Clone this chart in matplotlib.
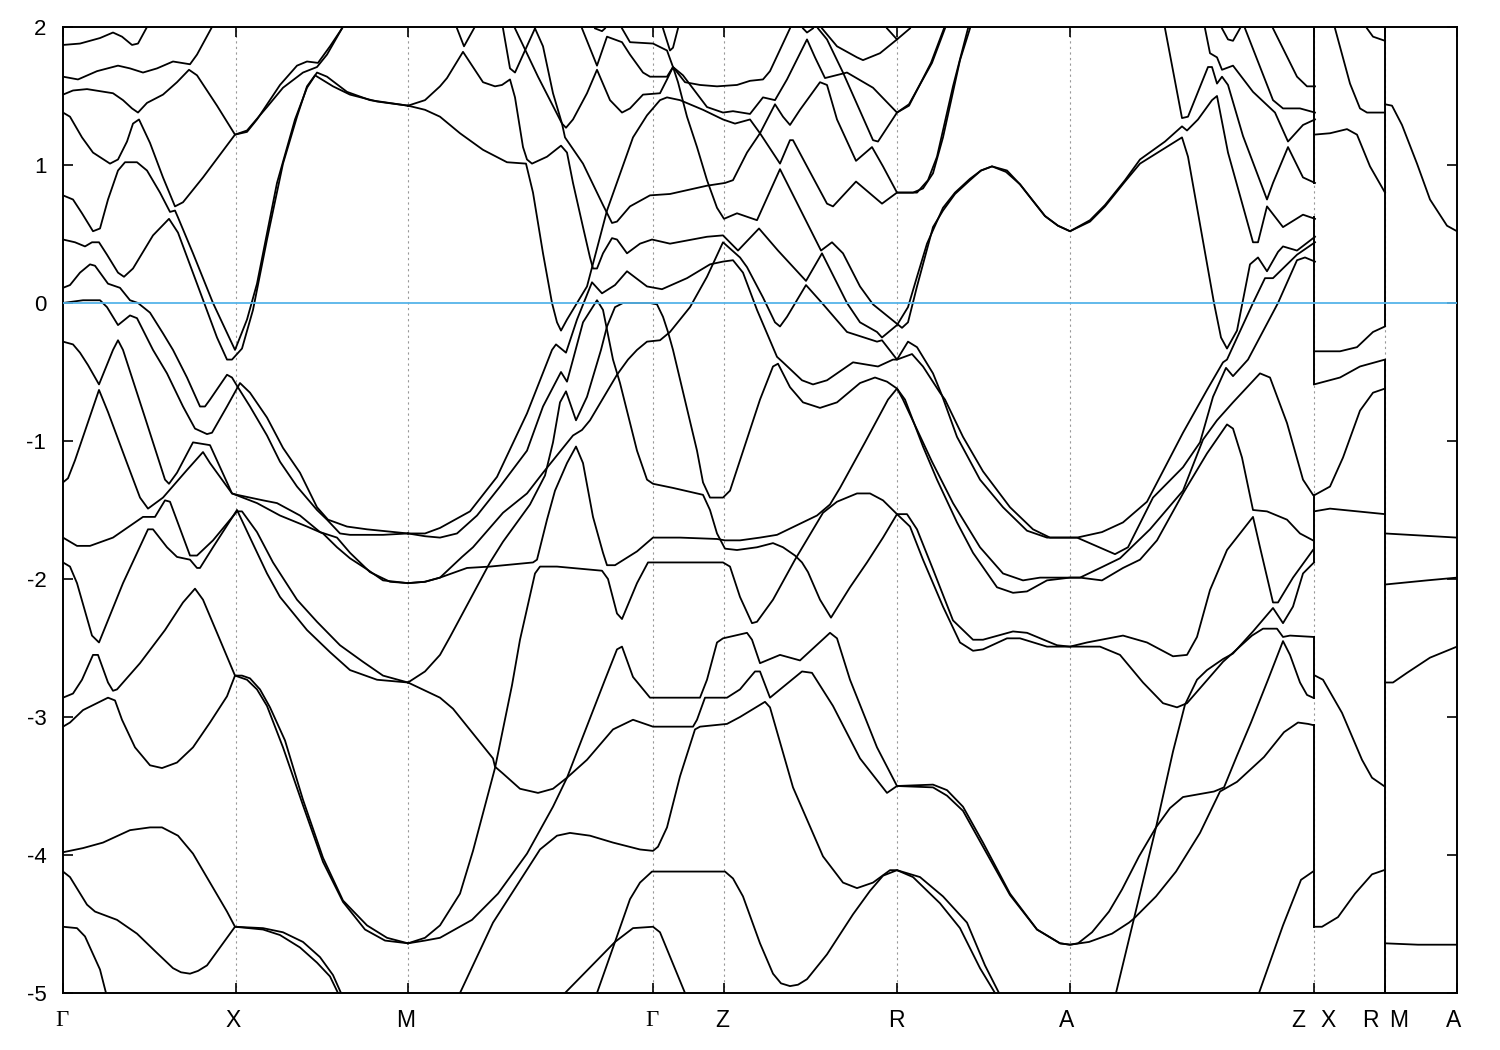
import matplotlib
matplotlib.use('Agg')
from matplotlib import pyplot as plt

# band structure: k = distance along the path, e = energy in eV
tick_k = [0, 173, 345, 590, 661, 834, 1007, 1251, 1322, 1394]
label_k = [-1, 170, 343, 589, 659, 833, 1004, 1235, 1265, 1307, 1336, 1391]
labels = ['Γ', 'X', 'M', 'Γ', 'Z', 'R', 'A', 'Z', 'X', 'R', 'M', 'A']
y_ticks = [2, 1, 0, -1, -2, -3, -4, -5]

b01_k = [0, 17, 37, 50, 59, 69, 75, 84]
b01_e = [1.87, 1.88, 1.92, 1.96, 1.93, 1.87, 1.88, 2.0]
b02_k = [0, 15, 34, 55, 67, 80, 94, 110, 127, 134, 149]
b02_e = [1.64, 1.62, 1.68, 1.72, 1.70, 1.67, 1.70, 1.75, 1.73, 1.80, 2.0]
b03_k = [0, 10, 24, 50, 60, 69, 75, 84, 100, 114, 126, 134, 154, 172, 184, 194, 217, 234, 244, 255, 267, 279]
b03_e = [1.51, 1.54, 1.55, 1.52, 1.47, 1.41, 1.38, 1.45, 1.51, 1.60, 1.69, 1.65, 1.43, 1.22, 1.24, 1.33, 1.58, 1.72, 1.75, 1.74, 1.86, 1.99]
b04_k = [0, 7, 19, 30, 47, 55, 64, 70, 76, 87, 100, 112, 120, 140, 172, 184, 204, 220, 240, 254, 264, 279]
b04_e = [1.38, 1.35, 1.20, 1.09, 1.01, 1.04, 1.17, 1.30, 1.33, 1.16, .91, .70, .73, .91, 1.22, 1.25, 1.42, 1.56, 1.67, 1.71, 1.80, 1.99]
b05_k = [0, 10, 19, 30, 37, 45, 55, 62, 74, 84, 97, 107, 112, 115, 130, 150, 172, 184, 194, 214, 232, 244, 254, 264, 284, 307, 345]
b05_e = [.78, .75, .65, .52, .54, .75, .96, 1.02, 1.02, .96, .80, .66, .67, .62, .36, 0, -.34, -.12, .14, .87, 1.33, 1.56, 1.67, 1.64, 1.53, 1.47, 1.43]
b06_k = [0, 12, 22, 29, 36, 44, 55, 61, 70, 90, 106, 115, 134, 154, 164, 169, 179, 190, 204, 220, 234, 244, 252, 270, 287, 314, 345]
b06_e = [.46, .44, .41, .44, .44, .35, .22, .19, .25, .49, .61, .51, .14, -.25, -.41, -.41, -.33, -.05, .46, 1.01, 1.35, 1.57, 1.65, 1.57, 1.51, 1.46, 1.43]
b07_k = [0, 7, 17, 27, 32, 45, 57, 67, 75, 87, 100, 110, 124, 137, 142, 147, 164, 169, 174, 187, 204, 217, 234, 254, 264, 277, 287, 320, 345]
b07_e = [.11, .13, .22, .28, .27, .14, .11, .02, 0, -.07, -.22, -.34, -.54, -.75, -.75, -.70, -.52, -.54, -.60, -.75, -.96, -1.15, -1.33, -1.50, -1.57, -1.67, -1.68, -1.68, -1.67]
b08_k = [0, 20, 37, 44, 55, 67, 74, 90, 104, 120, 132, 144, 149, 164, 177, 187, 204, 220, 237, 254, 265, 284, 304, 345]
b08_e = [0, .02, .02, -.03, -.16, -.09, -.11, -.34, -.51, -.75, -.91, -.95, -.94, -.75, -.58, -.65, -.83, -1.05, -1.23, -1.48, -1.57, -1.62, -1.64, -1.67]
b09_k = [0, 10, 17, 25, 36, 50, 55, 60, 82, 102, 106, 114, 130, 147, 164, 169, 174, 200, 214, 237, 257, 274, 287, 307, 327, 345]
b09_e = [-.28, -.30, -.36, -.45, -.59, -.34, -.27, -.34, -.83, -1.28, -1.31, -1.23, -1.01, -1.03, -1.30, -1.38, -1.39, -1.43, -1.45, -1.54, -1.66, -1.70, -1.81, -1.95, -2.02, -2.03]
b10_k = [0, 5, 12, 36, 45, 64, 77, 85, 100, 124, 140, 147, 169, 194, 217, 244, 260, 274, 287, 304, 320, 345]
b10_e = [-1.30, -1.27, -1.14, -.63, -.79, -1.16, -1.41, -1.49, -1.41, -1.21, -1.08, -1.16, -1.38, -1.45, -1.54, -1.62, -1.67, -1.77, -1.85, -1.93, -2.01, -2.03]
b11_k = [0, 14, 27, 50, 80, 92, 102, 107, 127, 134, 150, 174, 179, 194, 210, 234, 254, 277, 300, 320, 345]
b11_e = [-1.70, -1.76, -1.76, -1.70, -1.55, -1.55, -1.43, -1.44, -1.83, -1.83, -1.72, -1.51, -1.51, -1.66, -1.88, -2.15, -2.31, -2.48, -2.60, -2.70, -2.75]
b12_k = [0, 7, 14, 29, 36, 60, 85, 90, 104, 114, 127, 134, 137, 150, 174, 187, 204, 217, 244, 267, 287, 314, 345]
b12_e = [-1.88, -1.91, -2.03, -2.41, -2.46, -2.03, -1.64, -1.64, -1.77, -1.84, -1.86, -1.92, -1.92, -1.77, -1.50, -1.70, -1.96, -2.13, -2.37, -2.53, -2.66, -2.73, -2.75]
b13_k = [0, 10, 19, 30, 35, 45, 50, 54, 77, 102, 120, 132, 140, 154, 172, 179, 187, 197, 207, 222, 240, 260, 280, 304, 324, 345]
b13_e = [-2.86, -2.83, -2.73, -2.55, -2.55, -2.75, -2.81, -2.80, -2.61, -2.37, -2.17, -2.07, -2.15, -2.39, -2.70, -2.70, -2.72, -2.80, -2.93, -3.17, -3.60, -4.02, -4.33, -4.51, -4.60, -4.64]
b14_k = [0, 7, 20, 45, 52, 59, 72, 87, 99, 114, 130, 147, 164, 172, 184, 194, 204, 220, 240, 260, 280, 302, 322, 345]
b14_e = [-3.07, -3.04, -2.95, -2.86, -2.88, -3.02, -3.22, -3.35, -3.37, -3.33, -3.22, -3.04, -2.85, -2.70, -2.73, -2.80, -2.92, -3.22, -3.64, -4.05, -4.34, -4.54, -4.62, -4.64]
b15_k = [0, 20, 40, 67, 87, 99, 115, 130, 147, 164, 172, 200, 220, 240, 257, 270, 278]
b15_e = [-3.98, -3.95, -3.91, -3.82, -3.80, -3.80, -3.86, -3.99, -4.20, -4.41, -4.52, -4.53, -4.56, -4.63, -4.74, -4.87, -5.0]
b16_k = [0, 7, 24, 32, 54, 74, 94, 110, 118, 127, 135, 144, 172, 200, 217, 237, 254, 267, 275]
b16_e = [-4.12, -4.16, -4.36, -4.41, -4.47, -4.57, -4.71, -4.82, -4.85, -4.86, -4.84, -4.80, -4.52, -4.54, -4.58, -4.67, -4.78, -4.88, -5.0]
b17_k = [0, 14, 22, 37, 43]
b17_e = [-4.52, -4.53, -4.59, -4.83, -5.0]

b18_k = [345, 362, 377, 397, 420, 444, 463, 470, 480, 489, 494, 498, 504, 514, 524, 544, 570, 584, 597, 604, 617, 640, 660, 672, 687, 697, 717, 727, 730, 744, 764, 770, 793, 819, 834, 850, 860, 870, 880, 897, 907]
b18_e = [1.43, 1.40, 1.35, 1.23, 1.11, 1.02, 1.01, .80, .36, 0, -.14, -.20, -.12, 0, .12, .67, 1.20, 1.36, 1.47, 1.49, 1.47, 1.40, 1.33, 1.30, 1.33, 1.23, 1.01, 1.18, 1.18, .99, .72, .70, .88, .72, .80, .80, .83, .94, 1.20, 1.76, 1.99]
b19_k = [345, 362, 377, 384, 400, 410, 420, 432, 439, 447, 452, 460, 464, 469, 484, 498, 504, 510, 520, 527, 530, 534, 540, 549, 554, 564, 577, 589, 607, 644, 660, 675, 696, 715, 743, 759, 784, 797, 814, 819, 834, 845, 854, 864, 880, 892, 907, 918, 929, 943, 957, 970, 982, 995, 1007, 1027, 1042, 1062, 1077, 1102, 1119, 1124, 1135, 1149, 1154, 1165, 1190, 1195, 1204, 1220, 1240, 1252]
b19_e = [1.43, 1.47, 1.57, 1.63, 1.82, 1.71, 1.60, 1.57, 1.58, 1.62, 1.49, 1.13, 1.04, 1.01, 1.06, 1.14, 1.09, .87, .55, .33, .25, .25, .36, .47, .46, .36, .43, .46, .43, .48, .49, .38, .54, .38, .16, .36, 0, -.14, -.21, -.25, -.16, -.03, .19, .43, .69, .80, .90, .96, .99, .95, .86, .74, .63, .56, .52, .60, .71, .89, 1.04, 1.17, 1.28, 1.25, 1.33, 1.47, 1.50, 1.09, .44, .44, .70, .55, .64, .61]
b20_k = [452, 475, 499, 503, 510, 524, 534, 547, 559, 567, 580, 597, 604, 610, 615, 624, 634, 644, 654, 661, 674, 694, 717, 758, 769, 780, 797, 810, 839, 845, 854, 870, 880, 892, 907, 918, 929, 944, 957, 970, 982, 995, 1007, 1027, 1042, 1062, 1077, 1119, 1125, 1151, 1158, 1164, 1174, 1187, 1195, 1204, 1215, 1220, 1234, 1252]
b20_e = [1.99, 1.64, 1.30, 1.27, 1.33, 1.52, 1.69, 1.47, 1.38, 1.41, 1.51, 1.52, 1.62, 1.71, 1.60, 1.35, 1.13, .89, .69, .61, .65, .60, .97, .38, .44, .36, .12, -.01, -.18, -.14, .12, .55, .67, .79, .89, .96, .99, .96, .86, .74, .63, .56, .52, .59, .70, .88, 1.01, 1.20, 1.06, 0, -.25, -.33, -.20, .28, .33, .23, .37, .41, .38, .48]
b21_k = [472, 480, 490, 499, 502, 520, 540, 549, 554, 567, 587, 607, 644, 662, 670, 684, 697, 712, 720, 727, 737, 757, 764, 774, 793, 809, 820, 834, 854, 865, 874, 890, 905]
b21_e = [1.99, 1.86, 1.52, 1.30, 1.20, 1.01, .71, .58, .59, .70, .78, .79, .85, .87, .89, 1.09, 1.23, 1.44, 1.35, 1.29, 1.40, 1.60, 1.58, 1.33, 1.03, 1.13, .99, .80, .80, .89, 1.06, 1.57, 1.99]
b22_k = [519, 534, 544, 559, 567, 580, 587, 604, 610, 620, 644, 660, 670, 687, 700, 712, 724, 744, 752, 762, 784, 810, 834, 846, 868, 881]
b22_e = [1.99, 1.72, 1.93, 1.89, 1.80, 1.67, 1.64, 1.64, 1.71, 1.65, 1.42, 1.38, 1.39, 1.37, 1.49, 1.47, 1.62, 1.91, 1.78, 1.63, 1.67, 1.56, 1.38, 1.43, 1.74, 1.99]
b23_k = [559, 567, 590, 604, 610, 622, 637, 654, 674, 687, 700, 707, 727]
b23_e = [1.99, 1.89, 1.88, 1.83, 1.71, 1.60, 1.58, 1.57, 1.58, 1.61, 1.62, 1.68, 1.99]
b24_k = [600, 607, 610, 615]
b24_e = [1.99, 1.83, 1.85, 1.99]
b25_k = [394, 401, 411]
b25_e = [1.99, 1.86, 1.99]
b26_k = [440, 447, 452, 472]
b26_e = [1.99, 1.70, 1.67, 1.99]
b27_k = [532, 539, 542]
b27_e = [1.99, 1.97, 1.99]
b28_k = [740, 744, 750]
b28_e = [1.99, 1.96, 1.99]

b29_k = [345, 362, 377, 407, 434, 464, 489, 493, 503, 514, 529, 539, 552, 564, 584, 599, 624, 647, 660, 670, 680, 694, 714, 720, 739, 750, 764, 790, 815, 830, 834, 845, 854, 870, 879, 894, 917, 940, 964, 984, 1007, 1014, 1039, 1060, 1084, 1097, 1120, 1144, 1160, 1164, 1190, 1202, 1210, 1234, 1252]
b29_e = [-1.67, -1.67, -1.63, -1.51, -1.26, -.80, -.34, -.30, -.36, -.12, .15, .07, .13, .23, .12, .10, .18, .28, .30, .31, .22, -.05, -.39, -.43, -.56, -.59, -.56, -.43, -.46, -.41, -.41, -.28, -.32, -.51, -.67, -.97, -1.28, -1.48, -1.65, -1.70, -1.70, -1.70, -1.66, -1.59, -1.44, -1.26, -.94, -.63, -.43, -.41, 0, .18, .18, .35, .44]
b30_k = [345, 362, 377, 394, 414, 437, 464, 480, 498, 504, 510, 520, 534, 540, 550, 557, 574, 584, 590, 610, 640, 647, 654, 662, 674, 694, 710, 720, 732, 739, 745, 757, 768, 787, 804, 820, 834, 847, 860, 880, 897, 910, 920, 944, 957, 984, 1007, 1024, 1060, 1084, 1110, 1124, 1134, 1147, 1164, 1190, 1197, 1210, 1215, 1230, 1250]
b30_e = [-1.67, -1.69, -1.70, -1.67, -1.54, -1.33, -1.07, -.75, -.50, -.57, -.41, -.14, .02, -.05, -.41, -.58, -1.07, -1.28, -1.31, -1.34, -1.39, -1.50, -1.67, -1.78, -1.79, -1.77, -1.74, -1.77, -1.83, -1.88, -1.95, -2.15, -2.28, -2.06, -1.88, -1.70, -1.53, -1.62, -1.86, -2.20, -2.46, -2.52, -2.51, -2.43, -2.43, -2.49, -2.49, -2.46, -2.41, -2.46, -2.56, -2.55, -2.42, -2.08, -1.79, -1.55, -1.77, -2.17, -2.17, -1.99, -1.79]
b31_k = [345, 362, 377, 404, 427, 470, 474, 484, 492, 504, 513, 520, 530, 540, 544, 552, 574, 590, 617, 654, 662, 677, 697, 714, 734, 754, 767, 777, 802, 825, 834, 840, 860, 869, 890, 917, 940, 960, 977, 1007, 1017, 1039, 1060, 1077, 1094, 1120, 1144, 1164, 1170, 1179, 1190, 1204, 1224, 1237, 1250]
b31_e = [-2.03, -2.02, -1.99, -1.92, -1.91, -1.88, -1.86, -1.57, -1.36, -1.16, -1.04, -1.16, -1.55, -1.81, -1.90, -1.90, -1.80, -1.70, -1.70, -1.71, -1.72, -1.72, -1.70, -1.68, -1.61, -1.54, -1.46, -1.34, -1.01, -.70, -.62, -.70, -1.01, -1.15, -1.45, -1.77, -1.96, -2.01, -1.99, -1.99, -1.99, -2.01, -1.92, -1.86, -1.72, -1.38, -1.09, -.88, -.91, -1.12, -1.50, -1.51, -1.57, -1.67, -1.72]
b32_k = [345, 362, 377, 399, 410, 440, 464, 480, 510, 519, 527, 554, 565, 574, 584, 597, 607, 627, 644, 660, 677, 684, 700, 712, 717, 724, 743, 759, 784, 814, 819, 834, 849, 860, 877, 882, 900, 920, 947, 970, 987, 1007, 1014, 1052, 1065, 1090, 1120, 1137, 1150, 1163, 1170, 1185, 1215, 1234, 1242, 1252]
b32_e = [-2.03, -2.02, -1.99, -1.84, -1.77, -1.52, -1.38, -1.23, -.96, -.92, -.85, -.52, -.41, -.34, -.28, -.27, -.21, -.03, .19, .44, .33, .26, .04, -.14, -.17, -.10, .13, 0, -.21, -.28, -.27, -.41, -.37, -.46, -.65, -.70, -.97, -1.22, -1.48, -1.64, -1.70, -1.70, -1.70, -1.82, -1.77, -1.41, -1.19, -1.01, -.68, -.47, -.53, -.41, 0, .31, .33, .30]
b33_k = [345, 362, 377, 387, 427, 440, 467, 482, 490, 497, 503, 513, 524, 538, 544, 552, 560, 587, 594, 600, 605, 610, 634, 640, 647, 660, 667, 677, 697, 710, 715, 727, 740, 757, 774, 797, 812, 824, 834, 842, 860, 874, 894, 910, 934, 950, 964, 984, 1007, 1017, 1040, 1057, 1087, 1120, 1140, 1154, 1170, 1197, 1207, 1224, 1240, 1250]
b33_e = [-2.75, -2.67, -2.55, -2.42, -1.88, -1.73, -1.46, -1.25, -1.01, -.72, -.64, -.85, -.68, -.34, -.17, -.03, 0, 0, -.01, -.10, -.21, -.34, -1.07, -1.30, -1.41, -1.41, -1.36, -1.14, -.70, -.46, -.44, -.61, -.72, -.76, -.72, -.58, -.54, -.57, -.62, -.70, -1.04, -1.28, -1.59, -1.81, -2.06, -2.10, -2.09, -2.01, -1.99, -1.99, -1.91, -1.85, -1.64, -1.36, -.99, -.85, -.72, -.51, -.54, -.87, -1.28, -1.39]
b34_k = [345, 362, 377, 397, 410, 432, 449, 457, 472, 477, 494, 539, 545, 554, 559, 574, 585, 617, 660, 667, 677, 689, 694, 710, 732, 760, 774, 794, 807, 820, 834, 844, 854, 870, 890, 910, 920, 950, 964, 994, 1007, 1037, 1057, 1080, 1100, 1114, 1124, 1160, 1189, 1200, 1214, 1220, 1227, 1251]
b34_e = [-4.64, -4.60, -4.51, -4.28, -3.97, -3.37, -2.77, -2.44, -1.96, -1.91, -1.91, -1.94, -2.00, -2.25, -2.29, -2.03, -1.88, -1.88, -1.88, -1.91, -2.13, -2.32, -2.31, -2.15, -1.86, -1.52, -1.44, -1.38, -1.38, -1.43, -1.53, -1.53, -1.64, -1.93, -2.30, -2.44, -2.44, -2.38, -2.39, -2.48, -2.49, -2.49, -2.55, -2.75, -2.90, -2.93, -2.90, -2.60, -2.41, -2.36, -2.36, -2.42, -2.41, -2.42]
b35_k = [345, 362, 377, 409, 435, 464, 490, 504, 520, 542, 554, 559, 570, 587, 637, 644, 654, 660, 684, 689, 697, 717, 737, 767, 774, 787, 814, 834, 870, 884, 900, 920, 947, 974, 997, 1007, 1026, 1049, 1066, 1071, 1093, 1113, 1137, 1157, 1174, 1201, 1221, 1235, 1245, 1251]
b35_e = [-4.64, -4.62, -4.60, -4.47, -4.28, -3.99, -3.65, -3.44, -3.14, -2.73, -2.51, -2.49, -2.71, -2.86, -2.86, -2.73, -2.46, -2.43, -2.39, -2.44, -2.61, -2.55, -2.59, -2.39, -2.43, -2.73, -3.22, -3.50, -3.51, -3.57, -3.68, -3.94, -4.29, -4.54, -4.64, -4.65, -4.63, -4.57, -4.49, -4.46, -4.30, -4.12, -3.84, -3.54, -3.47, -3.29, -3.11, -3.04, -3.05, -3.06]
b36_k = [345, 377, 390, 410, 430, 432, 440, 457, 475, 490, 504, 524, 550, 570, 590, 630, 634, 642, 664, 677, 685, 692, 697, 707, 739, 749, 770, 797, 824, 834, 870, 884, 900, 920, 947, 974, 997, 1007, 1015, 1029, 1046, 1059, 1076, 1093, 1107, 1120, 1151, 1161, 1174, 1188, 1205, 1220, 1227, 1237, 1244, 1250]
b36_e = [-2.75, -2.86, -2.94, -3.12, -3.30, -3.36, -3.41, -3.52, -3.55, -3.52, -3.44, -3.31, -3.09, -3.02, -3.07, -3.07, -3.02, -2.86, -2.86, -2.80, -2.73, -2.67, -2.67, -2.86, -2.67, -2.68, -2.92, -3.30, -3.55, -3.50, -3.49, -3.53, -3.65, -3.91, -4.28, -4.54, -4.64, -4.65, -4.64, -4.56, -4.41, -4.25, -4.01, -3.80, -3.66, -3.58, -3.54, -3.51, -3.28, -3.04, -2.73, -2.45, -2.55, -2.75, -2.84, -2.86]
b37_k = [397, 430, 477, 494, 507, 527, 550, 577, 590, 595, 604, 617, 632, 637, 664, 677, 702, 707, 730, 760, 780, 794, 810, 827, 834, 850, 877, 897, 917, 932]
b37_e = [-5, -4.49, -3.96, -3.86, -3.84, -3.86, -3.91, -3.96, -3.97, -3.94, -3.80, -3.43, -3.09, -3.07, -3.05, -3.00, -2.89, -2.93, -3.51, -4.01, -4.20, -4.24, -4.20, -4.11, -4.11, -4.16, -4.35, -4.53, -4.82, -5.0]
b38_k = [502, 552, 570, 590, 597, 622]
b38_e = [-5, -4.63, -4.53, -4.52, -4.56, -5]
b39_k = [534, 552, 567, 577, 589, 662, 670, 680, 697, 710, 718, 727, 735, 744, 764, 790, 807, 820, 834, 857, 880, 904, 922, 936]
b39_e = [-5, -4.63, -4.32, -4.20, -4.12, -4.12, -4.17, -4.30, -4.64, -4.86, -4.93, -4.95, -4.94, -4.90, -4.72, -4.43, -4.26, -4.15, -4.11, -4.16, -4.30, -4.49, -4.80, -5.0]
b40_k = [755, 764, 780, 810, 815, 834, 846, 869, 882]
b40_e = [1.99, 1.91, 1.67, 1.18, 1.17, 1.38, 1.44, 1.74, 1.99]
b41_k = [759, 774, 794, 800, 817, 834, 847]
b41_e = [1.99, 1.86, 1.78, 1.76, 1.81, 1.91, 1.99]
b42_k = [824, 834]
b42_e = [1.99, 1.91]

# A - Z only
b43_k = [1102, 1119, 1125, 1145, 1149, 1154, 1159, 1165, 1180, 1204, 1210, 1225, 1240, 1252]
b43_e = [1.99, 1.34, 1.35, 1.71, 1.71, 1.59, 1.64, 1.58, 1.21, .75, .87, 1.13, .91, .87]
b44_k = [1142, 1147, 1154, 1159, 1170, 1190, 1212, 1225, 1240, 1252]
b44_e = [1.99, 1.81, 1.78, 1.69, 1.72, 1.53, 1.38, 1.17, 1.29, 1.33]
b45_k = [1159, 1165, 1170, 1177]
b45_e = [1.99, 1.91, 1.90, 1.99]
b46_k = [1182, 1210, 1220, 1237, 1252]
b46_e = [1.99, 1.47, 1.41, 1.41, 1.38]
b47_k = [1210, 1234, 1244, 1252]
b47_e = [1.99, 1.64, 1.57, 1.57]
b48_k = [1053, 1073, 1093, 1110, 1122, 1134, 1144, 1160, 1170, 1190, 1210, 1220, 1230, 1240, 1251]
b48_e = [-5, -4.40, -3.80, -3.25, -2.91, -2.73, -2.66, -2.58, -2.54, -2.38, -2.21, -2.32, -2.20, -1.96, -1.88]
b49_k = [1196, 1220, 1238, 1250]
b49_e = [-5, -4.51, -4.18, -4.12]

# X - R
z1_k = [1272, 1287, 1297, 1304, 1322]
z1_e = [1.99, 1.59, 1.41, 1.38, 1.38]
z2_k = [1304, 1310, 1322]
z2_e = [1.99, 1.93, 1.90]
z3_k = [1251, 1267, 1284, 1294, 1307, 1322]
z3_e = [1.22, 1.23, 1.26, 1.22, .99, .80]
z4_k = [1251, 1277, 1294, 1310, 1322]
z4_e = [-.35, -.35, -.32, -.21, -.17]
z5_k = [1251, 1277, 1297, 1322]
z5_e = [-.59, -.54, -.46, -.41]
z6_k = [1252, 1267, 1280, 1297, 1310, 1322]
z6_e = [-1.39, -1.33, -1.12, -.78, -.65, -.62]
z7_k = [1251, 1267, 1322]
z7_e = [-1.51, -1.49, -1.53]
z8_k = [1252, 1260, 1279, 1299, 1309, 1321]
z8_e = [-2.70, -2.73, -2.97, -3.31, -3.44, -3.50]
z9_k = [1251, 1259, 1275, 1292, 1309, 1321]
z9_e = [-4.52, -4.52, -4.45, -4.28, -4.14, -4.11]

# M - A
m1_k = [1322, 1329, 1339, 1354, 1367, 1384, 1394]
m1_e = [1.44, 1.43, 1.29, 1.01, .75, .56, .52]
m2_k = [1322, 1394]
m2_e = [-1.67, -1.70]
m3_k = [1322, 1364, 1394]
m3_e = [-2.04, -2.01, -1.99]
m4_k = [1322, 1330, 1344, 1367, 1394]
m4_e = [-2.75, -2.75, -2.68, -2.57, -2.49]
m5_k = [1322, 1355, 1394]
m5_e = [-4.64, -4.65, -4.65]

# solid jumps where the path breaks (top, bottom energy)
jumps_z = [(2.0, .87), (.62, -.59), (-1.39, -1.88), (-2.42, -2.86), (-3.06, -4.52)]
jumps_r = [(2.0, -.17), (-.41, -5.0)]

bands = [(b01_k, b01_e), (b02_k, b02_e), (b03_k, b03_e), (b04_k, b04_e), (b05_k, b05_e),
         (b06_k, b06_e), (b07_k, b07_e), (b08_k, b08_e), (b09_k, b09_e), (b10_k, b10_e),
         (b11_k, b11_e), (b12_k, b12_e), (b13_k, b13_e), (b14_k, b14_e), (b15_k, b15_e),
         (b16_k, b16_e), (b17_k, b17_e), (b18_k, b18_e), (b19_k, b19_e), (b20_k, b20_e),
         (b21_k, b21_e), (b22_k, b22_e), (b23_k, b23_e), (b24_k, b24_e), (b25_k, b25_e),
         (b26_k, b26_e), (b27_k, b27_e), (b28_k, b28_e), (b29_k, b29_e), (b30_k, b30_e),
         (b31_k, b31_e), (b32_k, b32_e), (b33_k, b33_e), (b34_k, b34_e), (b35_k, b35_e),
         (b36_k, b36_e), (b37_k, b37_e), (b38_k, b38_e), (b39_k, b39_e), (b40_k, b40_e),
         (b41_k, b41_e), (b42_k, b42_e), (b43_k, b43_e), (b44_k, b44_e), (b45_k, b45_e),
         (b46_k, b46_e), (b47_k, b47_e), (b48_k, b48_e), (b49_k, b49_e),
         (z1_k, z1_e), (z2_k, z2_e), (z3_k, z3_e), (z4_k, z4_e), (z5_k, z5_e),
         (z6_k, z6_e), (z7_k, z7_e), (z8_k, z8_e), (z9_k, z9_e),
         (m1_k, m1_e), (m2_k, m2_e), (m3_k, m3_e), (m4_k, m4_e), (m5_k, m5_e)]

plt.rcParams['font.family'] = ['Liberation Sans', 'DejaVu Sans']
plt.rcParams['axes.unicode_minus'] = False

fig = plt.figure(figsize=(15, 10.5), dpi=100)
ax = fig.add_axes([63 / 1500, 57 / 1050, 1394 / 1500, 966 / 1050])

for k in tick_k[1:-1]:
    ax.axvline(k, color='#999999', lw=0.8, dashes=(2, 3), zorder=1)

for k, e in bands:
    ax.plot(k, e, color='black', lw=1.3, solid_joinstyle='round', zorder=2)

for top, bottom in jumps_z:
    ax.plot([tick_k[7], tick_k[7]], [top, bottom], color='black', lw=1.4, zorder=2)
for top, bottom in jumps_r:
    ax.plot([tick_k[8], tick_k[8]], [top, bottom], color='black', lw=1.4, zorder=2)

ax.axhline(0, color='#56b4e9', lw=1.3, zorder=3)

ax.set_xlim(tick_k[0], tick_k[-1])
ax.set_ylim(-5, 2)
ax.set_yticks(y_ticks)
ax.set_xticks(tick_k)
ax.set_xticklabels([])
ax.tick_params(direction='in', length=7.5, width=1.2, top=True, right=True, labelsize=16, pad=12)
for s in ax.spines.values():
    s.set_linewidth(1.4)

for k, name in zip(label_k, labels):
    fam = ['Liberation Serif', 'DejaVu Serif'] if name == 'Γ' else ['Liberation Sans', 'DejaVu Sans']
    ax.text(k, -0.028, name, transform=ax.get_xaxis_transform(), ha='center', va='center',
            fontsize=16.5, family=fam, clip_on=False)

fig.savefig('out.png', dpi=100)
